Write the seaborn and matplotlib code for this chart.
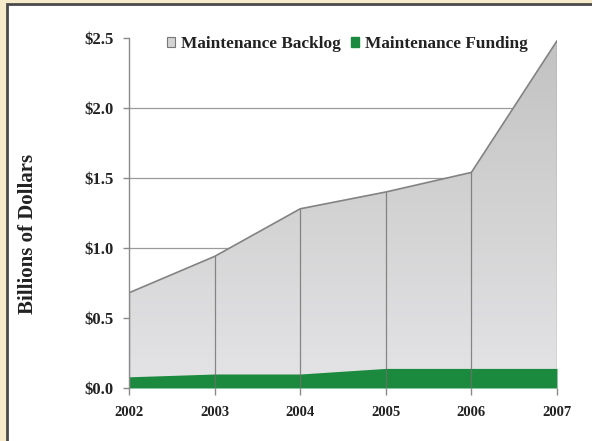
import numpy as np
import pandas as pd
import matplotlib
matplotlib.use("Agg")
import matplotlib.pyplot as plt
from matplotlib.patches import Rectangle, Patch
import seaborn as sns

# datos (miles de millones de dolares)
years = [2002, 2003, 2004, 2005, 2006, 2007]
backlog = [0.68, 0.94, 1.28, 1.40, 1.54, 2.48]
funding = [0.08, 0.10, 0.10, 0.14, 0.14, 0.14]
yticks = [0.0, 0.5, 1.0, 1.5, 2.0, 2.5]
ytick_labels = ["$0.0", "$0.5", "$1.0", "$1.5", "$2.0", "$2.5"]

df = pd.DataFrame({"year": years, "backlog": backlog, "funding": funding})

sns.set_style("white")
plt.rcParams["font.family"] = ["Liberation Serif", "DejaVu Serif"]
plt.rcParams["font.weight"] = "bold"

fig = plt.figure(figsize=(5.92, 4.41), dpi=100)
fig.patch.set_facecolor("#f7ebcc")

# panel blanco con borde oscuro
panel = Rectangle((7 / 592, -0.01), 1.02, 1 - 4 / 441 + 0.01,
                  transform=fig.transFigure, facecolor="white",
                  edgecolor="#4a4a4a", linewidth=2.0, zorder=-10)
fig.patches.append(panel)

ax = fig.add_axes([129 / 592, 1 - 388 / 441, (557 - 129) / 592, (388 - 38) / 441])
ax.set_facecolor("none")
ax.set_xlim(2002, 2007)
ax.set_ylim(0, 2.5)

# lineas horizontales detras del area
for y in yticks[1:-1]:
    ax.axhline(y, color="#9a9a9a", linewidth=0.9, zorder=1)

# area gris con degradado
poly = ax.fill_between(df["year"], 0, df["backlog"], color="none", zorder=2)
grad = np.linspace(0, 1, 256).reshape(-1, 1)
top = np.array([194, 194, 194]) / 255
bottom = np.array([228, 228, 230]) / 255
img = bottom + (top - bottom) * grad
img = np.repeat(img[:, None, :], 2, axis=1)
im = ax.imshow(img, extent=[2002, 2007, 0, 2.5], origin="lower",
               aspect="auto", zorder=2, interpolation="bilinear")
im.set_clip_path(poly.get_paths()[0], transform=ax.transData)

sns.lineplot(data=df, x="year", y="backlog", ax=ax, color="#838383",
             linewidth=1.2, zorder=3)

# area verde de financiamiento
ax.fill_between(df["year"], 0, df["funding"], color="#1b8a3e", zorder=4,
                linewidth=0)

# lineas verticales en cada anio
ax.vlines(df["year"], 0, df["backlog"], color="#6e6e6e", linewidth=0.9,
          alpha=0.8, zorder=5)

for s in ["top", "right", "bottom"]:
    ax.spines[s].set_visible(False)
ax.spines["left"].set_color("#8a8a8a")
ax.spines["left"].set_linewidth(1.0)
ax.spines["left"].set_zorder(6)

ax.set_yticks(yticks)
ax.set_yticklabels(ytick_labels)
ax.set_xticks(years)
ax.set_xticklabels([str(y) for y in years])
ax.tick_params(axis="both", which="both", left=True, bottom=True,
               color="#8a8a8a", length=4, width=1.0, labelcolor="#222222")
ax.tick_params(axis="y", pad=7, labelsize=12)
ax.tick_params(axis="x", pad=8, length=5, labelsize=10.5)
for lab in ax.get_xticklabels() + ax.get_yticklabels():
    lab.set_fontweight("bold")

ax.set_xlabel("")
ax.set_ylabel("")
fig.text(28 / 592, 1 - 234 / 441, "Billions of Dollars", rotation=90,
         ha="center", va="center", fontsize=15, fontweight="bold",
         color="#222222")

handles = [
    Patch(facecolor="#d4d4d4", edgecolor="#777777", linewidth=0.8,
          label="Maintenance Backlog"),
    Patch(facecolor="#1b8a3e", edgecolor="#1b8a3e",
          label="Maintenance Funding"),
]
leg = ax.legend(handles=handles, loc="upper left", ncol=2, frameon=False,
                bbox_to_anchor=(0.06, 1.04), handlelength=0.5,
                handleheight=0.5, handletextpad=0.35, columnspacing=0.55,
                borderaxespad=0.3, prop={"weight": "bold", "size": 12.4})
for t in leg.get_texts():
    t.set_color("#222222")

fig.savefig("out.png", dpi=100, facecolor=fig.get_facecolor())
